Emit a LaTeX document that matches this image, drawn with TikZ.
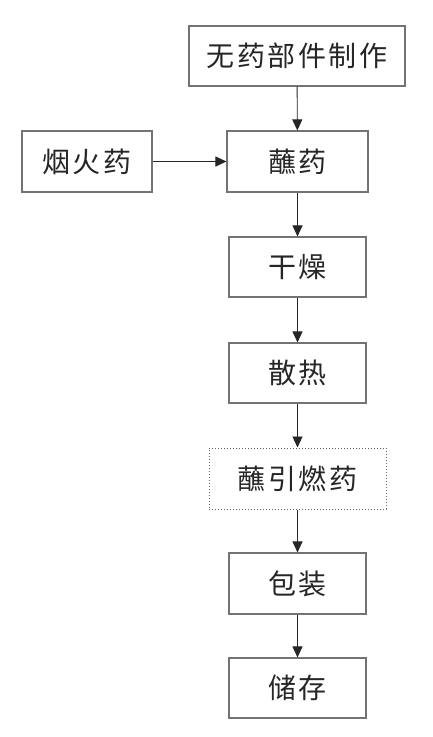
\documentclass[tikz,border=0pt]{standalone}
\usepackage{fontspec}
\newfontfamily\cjk[LetterSpace=9]{Noto Sans CJK SC}
\usetikzlibrary{arrows.meta}
\tikzset{
  x=1pt,y=-1pt,
  box/.style={draw=black!55, line width=1.1pt, fill=white, inner sep=0pt,
    minimum height=60pt, font=\cjk\fontsize{28}{30}\selectfont, text=black!85},
  dotbox/.style={box, draw=black!60, line width=1pt, dash pattern=on 1pt off 2pt},
  flow/.style={draw=black!85, line width=0.9pt, -{Triangle[length=11pt,width=10pt]}}
}
\begin{document}
\begin{tikzpicture}
\useasboundingbox (0,0) rectangle (432,737);
\node[box, minimum width=216pt] (a) at (297,56) {无药部件制作};
\node[box, minimum width=130pt, minimum height=61pt] (f) at (87,161.5) {烟火药};
\node[box, minimum width=141pt, minimum height=61pt] (b) at (297.5,161.5) {蘸药};
\node[box, minimum width=137pt] (c) at (297.5,267) {干燥};
\node[box, minimum width=137pt] (d) at (297.5,373) {散热};
\node[dotbox, minimum width=177pt, minimum height=61pt] (e) at (297.5,478.5) {蘸引燃药};
\node[box, minimum width=137pt, minimum height=61pt] (g) at (297.5,583.5) {包装};
\node[box, minimum width=137pt] (h) at (297.5,688) {储存};
\draw[flow] (a) -- (b);
\draw[flow] (f) -- (b);
\draw[flow] (b) -- (c);
\draw[flow] (c) -- (d);
\draw[flow] (d) -- (e);
\draw[flow] (e) -- (g);
\draw[flow] (g) -- (h);
\end{tikzpicture}
\end{document}
